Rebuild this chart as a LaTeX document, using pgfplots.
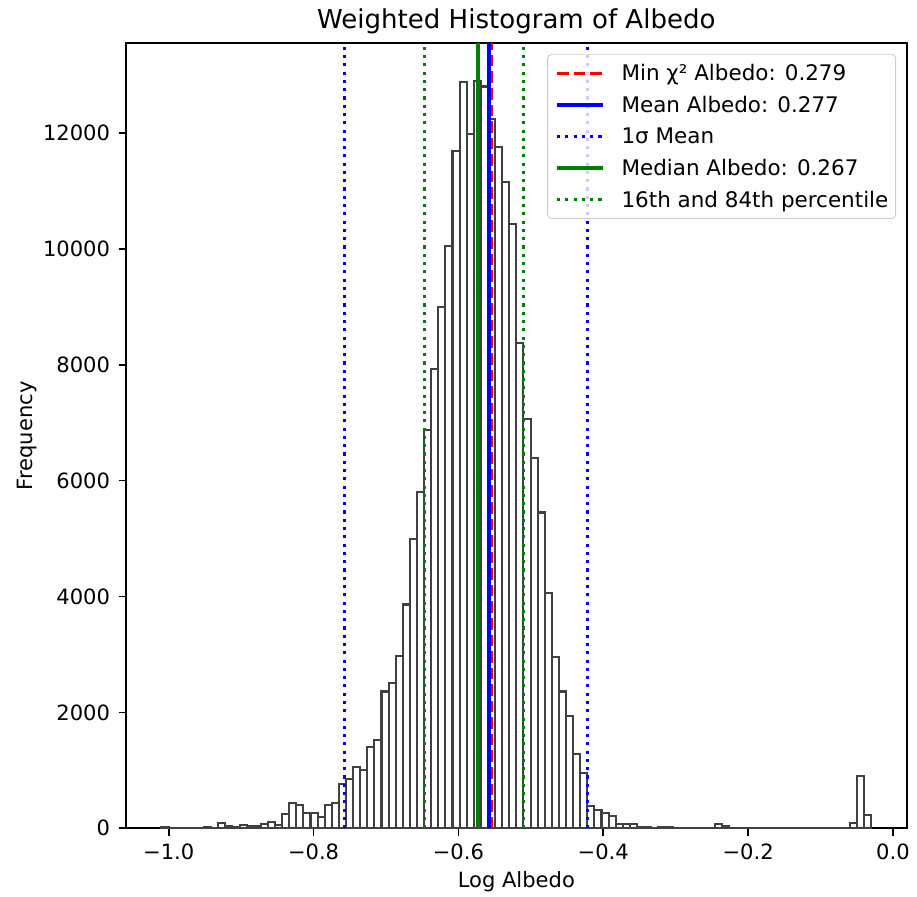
\documentclass[border=0pt]{standalone}
\usepackage{fontspec}
\setmainfont{DejaVu Sans}
\usepackage{pgfplots}
\usepackage{pgfplotstable}
\pgfplotsset{compat=1.18}

\definecolor{mplgreen}{RGB}{0,128,0}

% bin left edges and weighted counts (last row closes the final bin)
\pgfplotstableread{
x y
-1.0100 18
-1.0002 5
-0.9904 4
-0.9806 6
-0.9708 8
-0.9610 10
-0.9512 29
-0.9414 12
-0.9316 86
-0.9218 40
-0.9120 17
-0.9022 52
-0.8924 40
-0.8826 40
-0.8728 69
-0.8630 115
-0.8532 58
-0.8434 253
-0.8336 443
-0.8238 403
-0.8140 259
-0.8042 270
-0.7944 201
-0.7846 408
-0.7748 443
-0.7650 759
-0.7552 857
-0.7454 1053
-0.7356 1001
-0.7258 1404
-0.7160 1519
-0.7062 2360
-0.6964 2510
-0.6866 2979
-0.6768 3862
-0.6670 4995
-0.6572 5811
-0.6474 6870
-0.6376 7922
-0.6278 9003
-0.6180 10046
-0.6082 11692
-0.5984 12875
-0.5886 11975
-0.5788 12902
-0.5690 12802
-0.5592 12235
-0.5494 11756
-0.5396 11150
-0.5298 10429
-0.5200 8370
-0.5102 7064
-0.5004 6395
-0.4906 5450
-0.4808 4061
-0.4710 2962
-0.4612 2360
-0.4514 1935
-0.4416 1285
-0.4318 960
-0.4220 391
-0.4122 316
-0.4024 259
-0.3926 213
-0.3828 75
-0.3730 75
-0.3632 75
-0.3534 29
-0.3436 17
-0.3338 12
-0.3240 29
-0.3142 17
-0.3044 10
-0.2946 8
-0.2848 5
-0.2750 3
-0.2652 2
-0.2554 2
-0.2456 75
-0.2358 46
-0.2260 0
-0.2162 0
-0.2064 0
-0.1966 0
-0.1868 0
-0.1770 0
-0.1672 0
-0.1574 0
-0.1476 0
-0.1378 0
-0.1280 0
-0.1182 0
-0.1084 0
-0.0986 0
-0.0888 0
-0.0790 0
-0.0692 0
-0.0594 98
-0.0496 908
-0.0398 230
-0.0300 0
}\histdata

\begin{document}
\begin{tikzpicture}
\useasboundingbox (-60.48pt,-32.98pt) rectangle (379.68pt,397.58pt);
\begin{axis}[
  at={(0pt,0pt)}, anchor=south west,
  scale only axis, width=374.74pt, height=376.8pt,
  xmin=-1.059, xmax=0.019, ymin=0, ymax=13548,
  xtick={-1.0,-0.8,-0.6,-0.4,-0.2,0.0},
  xticklabels={−1.0,−0.8,−0.6,−0.4,−0.2,0.0},
  ytick={0,2000,4000,6000,8000,10000,12000},
  scaled y ticks=false,
  /pgf/number format/1000 sep={},
  /pgf/number format/assume math mode=true,
  tick pos=left, tick align=outside,
  major tick length=3.5pt,
  minor tick num=0,
  every tick/.style={black, line width=0.8pt},
  axis line style={line width=0.8pt},
  tick label style={font=\fontsize{10.1}{12}\selectfont, inner sep=0pt},
  xticklabel style={anchor=base, yshift=-11.4pt},
  yticklabel style={anchor=east, xshift=-4pt},
  every axis title shift=0pt,
  title={Weighted Histogram of Albedo},
  title style={font=\fontsize{12.5}{15}\selectfont, at={(axis description cs:0.5,1.0188)}, anchor=base, inner sep=0pt},
  xlabel={Log Albedo},
  xlabel style={font=\fontsize{10.1}{12}\selectfont, at={(axis description cs:0.5,-0.0759)}, anchor=base, inner sep=0pt},
  ylabel={Frequency},
  ylabel style={font=\fontsize{10.1}{12}\selectfont, at={(axis description cs:-0.1201,0.5)}, anchor=base, inner sep=0pt},
  legend cell align=left,
  legend style={at={(axis description cs:1,1)}, anchor=north east, xshift=-5.1pt, yshift=-5.1pt,
    draw=black!20, fill=white, fill opacity=0.8, draw opacity=1, text opacity=1,
    rounded corners=2pt, inner xsep=3.5pt, inner ysep=4pt, row sep=5.2pt, column sep=0pt,
    font=\fontsize{10.3}{12}\selectfont,
    nodes={inner sep=0pt, text height=8.5pt, text depth=1.5pt}},
  legend image code/.code={\draw[#1] (0pt,0pt) -- (22pt,0pt); \path (30pt,0pt);},
]
\addplot[ybar interval, draw=black!75, fill=white, line width=1pt, forget plot]
  table[x=x, y=y] {\histdata};

\addplot[red, line width=1.5pt, dash pattern=on 5.55pt off 2.4pt]
  coordinates {(-0.5544,0) (-0.5544,13548)};
\addlegendentry{Min χ² Albedo: 0.279}
\addplot[blue, line width=2pt]
  coordinates {(-0.5575,0) (-0.5575,13548)};
\addlegendentry{Mean Albedo: 0.277}
\addplot[blue, line width=1.5pt, dash pattern=on 1.5pt off 2.475pt]
  coordinates {(-0.7570,0) (-0.7570,13548)};
\addlegendentry{1σ Mean}
\addplot[blue, line width=1.5pt, dash pattern=on 1.5pt off 2.475pt, forget plot]
  coordinates {(-0.4214,0) (-0.4214,13548)};
\addplot[mplgreen, line width=2pt]
  coordinates {(-0.5735,0) (-0.5735,13548)};
\addlegendentry{Median Albedo: 0.267}
\addplot[mplgreen, line width=1.5pt, dash pattern=on 1.5pt off 2.475pt]
  coordinates {(-0.6467,0) (-0.6467,13548)};
\addlegendentry{16th and 84th percentile}
\addplot[mplgreen, line width=1.5pt, dash pattern=on 1.5pt off 2.475pt, forget plot]
  coordinates {(-0.5107,0) (-0.5107,13548)};
\end{axis}
\end{tikzpicture}
\end{document}
